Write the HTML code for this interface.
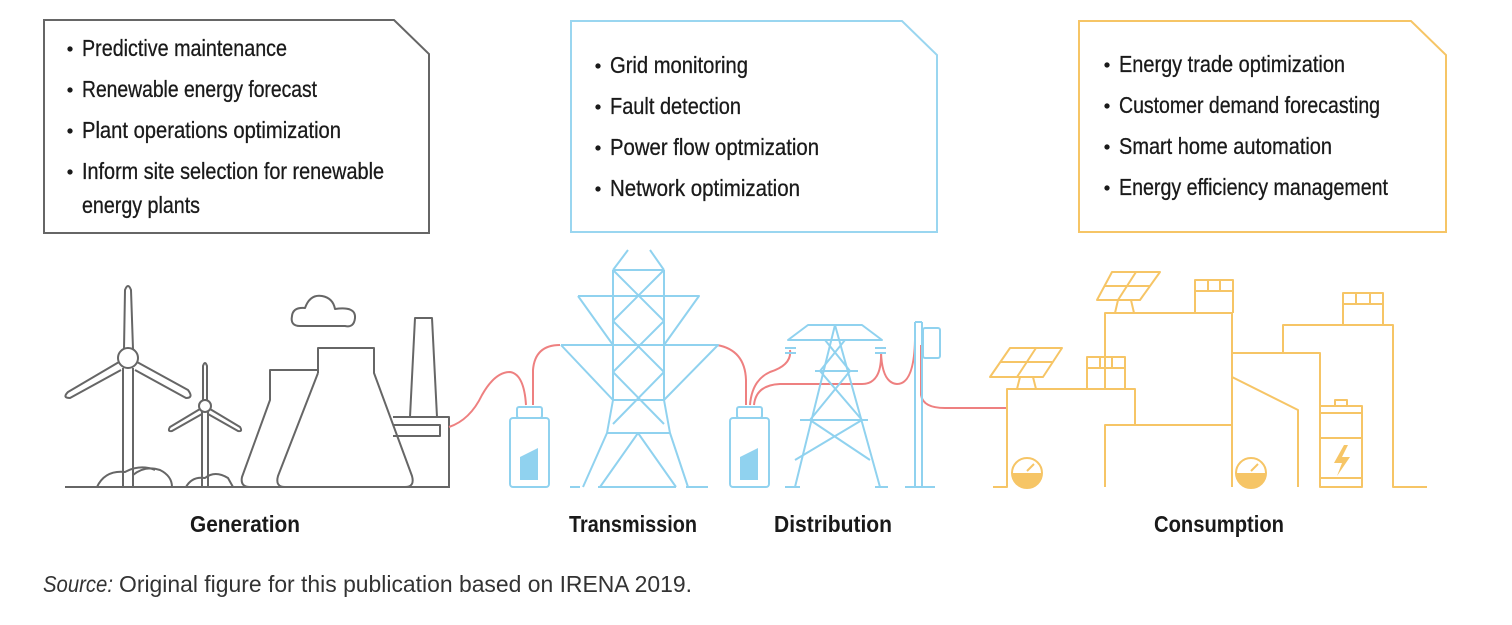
<!DOCTYPE html>
<html><head><meta charset="utf-8"><style>
html,body{margin:0;padding:0;background:#fff;}
svg{display:block}
text{font-family:"Liberation Sans",sans-serif;fill:#1a1a1a}
.t{font-size:23px;stroke:#1a1a1a;stroke-width:0.3}
.b{font-size:23px;font-weight:bold}
</style></head><body>
<svg width="1512" height="625" viewBox="0 0 1512 625" xmlns="http://www.w3.org/2000/svg">
<!-- boxes -->
<path d="M44 20 H394 L429 54 V233 H44 Z" fill="none" stroke="#666" stroke-width="2"/>
<path d="M571 21 H902 L937 55 V232 H571 Z" fill="none" stroke="#9ad6f0" stroke-width="2"/>
<path d="M1079 21 H1411 L1446 55 V232 H1079 Z" fill="none" stroke="#f6c566" stroke-width="2"/>

<g class="t">
<circle cx="70" cy="49" r="2.5" fill="#1a1a1a"/><text x="82" y="56" textLength="205" lengthAdjust="spacingAndGlyphs">Predictive maintenance</text>
<circle cx="70" cy="90" r="2.5" fill="#1a1a1a"/><text x="82" y="97" textLength="235" lengthAdjust="spacingAndGlyphs">Renewable energy forecast</text>
<circle cx="70" cy="131" r="2.5" fill="#1a1a1a"/><text x="82" y="138" textLength="259" lengthAdjust="spacingAndGlyphs">Plant operations optimization</text>
<circle cx="70" cy="172" r="2.5" fill="#1a1a1a"/><text x="82" y="179" textLength="302" lengthAdjust="spacingAndGlyphs">Inform site selection for renewable</text>
<text x="82" y="213" textLength="118" lengthAdjust="spacingAndGlyphs">energy plants</text>

<circle cx="598" cy="66" r="2.5" fill="#1a1a1a"/><text x="610" y="73" textLength="138" lengthAdjust="spacingAndGlyphs">Grid monitoring</text>
<circle cx="598" cy="107" r="2.5" fill="#1a1a1a"/><text x="610" y="114" textLength="131" lengthAdjust="spacingAndGlyphs">Fault detection</text>
<circle cx="598" cy="148" r="2.5" fill="#1a1a1a"/><text x="610" y="155" textLength="209" lengthAdjust="spacingAndGlyphs">Power flow optmization</text>
<circle cx="598" cy="189" r="2.5" fill="#1a1a1a"/><text x="610" y="196" textLength="190" lengthAdjust="spacingAndGlyphs">Network optimization</text>

<circle cx="1107" cy="65" r="2.5" fill="#1a1a1a"/><text x="1119" y="72" textLength="226" lengthAdjust="spacingAndGlyphs">Energy trade optimization</text>
<circle cx="1107" cy="106" r="2.5" fill="#1a1a1a"/><text x="1119" y="113" textLength="261" lengthAdjust="spacingAndGlyphs">Customer demand forecasting</text>
<circle cx="1107" cy="147" r="2.5" fill="#1a1a1a"/><text x="1119" y="154" textLength="213" lengthAdjust="spacingAndGlyphs">Smart home automation</text>
<circle cx="1107" cy="188" r="2.5" fill="#1a1a1a"/><text x="1119" y="195" textLength="269" lengthAdjust="spacingAndGlyphs">Energy efficiency management</text>
</g>

<!-- Generation -->
<g fill="none" stroke="#666" stroke-width="2" stroke-linejoin="round">
<path d="M65 487 H450"/>
<!-- big turbine -->
<path d="M123 487 V368 M133 487 V368"/>
<circle cx="128" cy="358" r="10"/>
<path d="M124 349 L125 290 Q128 282 131 290 L133 349"/>
<path d="M119 362 L68 392 Q62 398 70 398 L121 370"/>
<path d="M137 362 L188 390 Q194 398 186 398 L135 370"/>
<!-- small turbine -->
<path d="M202 487 V412 M208 487 V412"/>
<circle cx="205" cy="406" r="6"/>
<path d="M203 400 L203 366 Q205 360 207 366 L207 400"/>
<path d="M200 409 L170 427 Q167 432 172 431 L202 414"/>
<path d="M210 409 L240 427 Q243 432 238 431 L208 414"/>
<!-- hills -->
<path d="M97 487 Q105 470 125 472 Q140 464 155 470 M133 475 Q145 465 160 470 Q172 476 172 487"/>
<path d="M186 487 Q192 476 205 478 Q215 470 228 478 L233 487"/>
<!-- cloud -->
<path d="M300 326 Q290 326 292 316 Q293 307 305 308 Q310 294 322 296 Q333 298 335 309 Q356 306 355 318 Q354 328 345 326 Z"/>
<!-- cooling towers -->
<path d="M318 370 H270 V400 L242 477 Q240 487 250 487"/>
<path d="M318 373 V348 H374 V373 L412 476 Q415 487 405 487 H285 Q275 487 278 476 L318 373"/>
<!-- chimney + building -->
<path d="M410 417 L415 318 H432 L437 417"/>
<path d="M393 417 H449 V487"/>
<path d="M393 425 H440 V436 H393"/>
</g>

<!-- red wires -->
<g fill="none" stroke="#ee8080" stroke-width="2">
<path d="M449 427 Q470 420 482 395 Q495 372 510 372 Q524 374 526 405"/>
<path d="M533 405 V370 Q535 345 560 345"/>
<path d="M717 345 Q745 350 746 380 V405"/>
<path d="M750 405 Q752 380 770 372 Q792 365 790 350"/>
<path d="M754 405 Q756 385 780 384 H862 Q882 384 881 352 Q882 383 897 384 Q914 384 915 340"/>
<path d="M921 345 V395 Q923 408 945 408 H1007"/>
</g>

<!-- Transmission (blue) -->
<g fill="none" stroke="#90d2ef" stroke-width="2" stroke-linejoin="round">
<path d="M570 487 H580 M598 487 H668 M686 487 H708"/>
<rect x="517" y="407" width="25" height="11" rx="2"/>
<rect x="510" y="418" width="39" height="69" rx="3"/>
<rect x="737" y="407" width="25" height="11" rx="2"/>
<rect x="730" y="418" width="39" height="69" rx="3"/>
<path d="M613 270 V400 M664 270 V400 M613 270 H664 M613 270 L628 250 M664 270 L650 250"/>
<path d="M578 296 H699 L664 345 M578 296 L613 345"/>
<path d="M561 345 H718 L664 400 M561 345 L613 400 M613 400 H664"/>
<path d="M613 270 L664 321 L613 372 L664 424 M664 270 L613 321 L664 372 L613 424"/>
<path d="M613 400 L607 433 L583 487 M664 400 L670 433 L688 487 M607 433 H670"/>
<path d="M600 487 L638 433 L676 487 M600 487 H676"/>
<path d="M788 340 L808 325 H862 L882 340 Z"/>
<path d="M835 325 L795 487 M835 325 L880 487"/>
<path d="M815 371 H858 M800 420 H868"/>
<path d="M825 340 L850 371 L810 420 L870 460 M845 340 L820 371 L862 420 L795 460"/>
<path d="M785 487 H800 M875 487 H888"/>
<path d="M785 348 H796 M785 353 H796 M875 348 H886 M875 353 H886"/>
<path d="M915 322 V487 M922 322 V487 M915 322 H922 M905 487 H935"/>
<rect x="923" y="328" width="17" height="30" rx="2"/>
</g>
<path d="M520 457 L538 448 V480 H520 Z" fill="#90d2ef"/>
<path d="M740 457 L758 448 V480 H740 Z" fill="#90d2ef"/>

<!-- Consumption (orange) -->
<g fill="none" stroke="#f6c566" stroke-width="2" stroke-linejoin="round">
<path d="M993 487 H1007 V389 H1135 V425 M1105 487 V425 H1232"/>
<path d="M1105 389 V313 H1232 V487 M1232 353 H1320 V487"/>
<path d="M1232 377 L1298 410 V487"/>
<path d="M1283 353 V325 H1393 V487 H1427"/>
<path d="M1087 389 V357 H1125 V389 M1087 368 H1125 M1100 357 V368 M1112 357 V368"/>
<path d="M1195 313 V280 H1233 V313 M1195 291 H1233 M1208 280 V291 M1220 280 V291"/>
<path d="M1343 325 V293 H1383 V325 M1343 304 H1383 M1356 293 V304 M1370 293 V304"/>
<path d="M1010 348 H1062 L1043 377 H990 Z M1000 362 H1052 M1036 348 L1017 377"/>
<path d="M1020 377 L1017 389 M1033 377 L1036 389"/>
<path d="M1112 272 H1160 L1140 300 H1097 Z M1104 286 H1150 M1136 272 L1118 300"/>
<path d="M1118 300 L1115 313 M1131 300 L1134 313"/>
<rect x="1335" y="400" width="12" height="6"/>
<rect x="1320" y="406" width="42" height="81"/>
<path d="M1320 413 H1362 M1320 438 H1362 M1320 478 H1362"/>
<circle cx="1027" cy="473" r="15"/>
<circle cx="1251" cy="473" r="15"/>
<path d="M1027 471 L1034 464 M1251 471 L1258 464"/>
</g>
<path d="M1012 473 H1042 A15 15 0 0 1 1012 473 Z" fill="#f6c566"/>
<path d="M1236 473 H1266 A15 15 0 0 1 1236 473 Z" fill="#f6c566"/>
<path d="M1344 445 L1334 463 H1342 L1337 476 L1350 457 H1342 L1348 445 Z" fill="#f6c566"/>

<!-- labels -->
<g class="b">
<text x="190" y="532" textLength="110" lengthAdjust="spacingAndGlyphs">Generation</text>
<text x="569" y="532" textLength="128" lengthAdjust="spacingAndGlyphs">Transmission</text>
<text x="774" y="532" textLength="118" lengthAdjust="spacingAndGlyphs">Distribution</text>
<text x="1154" y="532" textLength="130" lengthAdjust="spacingAndGlyphs">Consumption</text>
</g>
<text x="43" y="592" font-size="23" font-style="italic" textLength="70" lengthAdjust="spacingAndGlyphs" style="fill:#333">Source:</text>
<text x="119" y="592" font-size="23" textLength="573" lengthAdjust="spacingAndGlyphs" style="fill:#333">Original figure for this publication based on IRENA 2019.</text>
</svg>
</body></html>
